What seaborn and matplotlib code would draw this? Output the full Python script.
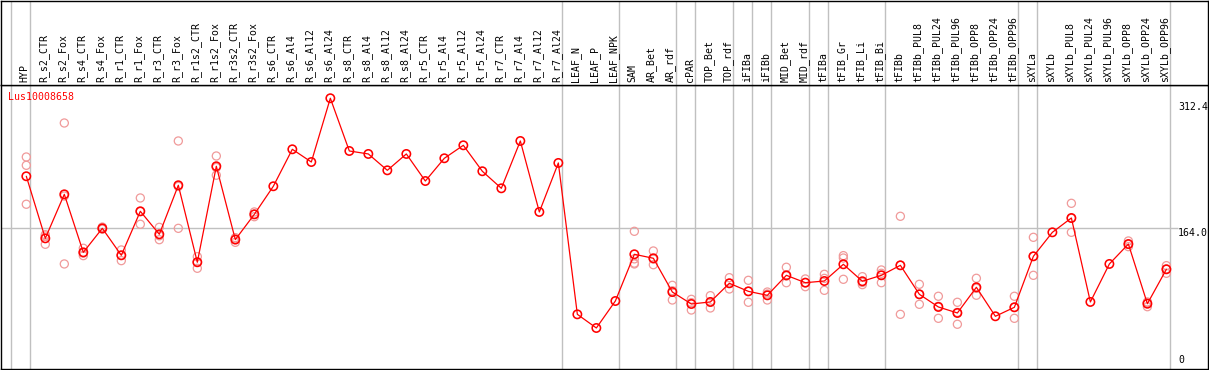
import numpy as np
import pandas as pd
import seaborn as sns
import matplotlib.pyplot as plt

GENE = "Lus10008658"

SAMPLES = [
    "HYP", "R_s2_CTR", "R_s2_Fox", "R_s4_CTR", "R_s4_Fox", "R_r1_CTR", "R_r1_Fox",
    "R_r3_CTR", "R_r3_Fox", "R_r1s2_CTR", "R_r1s2_Fox", "R_r3s2_CTR", "R_r3s2_Fox",
    "R_s6_CTR", "R_s6_Al4", "R_s6_Al12", "R_s6_Al24", "R_s8_CTR", "R_s8_Al4",
    "R_s8_Al12", "R_s8_Al24", "R_r5_CTR", "R_r5_Al4", "R_r5_Al12", "R_r5_Al24",
    "R_r7_CTR", "R_r7_Al4", "R_r7_Al12", "R_r7_Al24", "LEAF_N", "LEAF_P", "LEAF_NPK",
    "SAM", "AR_Bet", "AR_rdf", "cPAR", "TOP_Bet", "TOP_rdf", "iFIBa", "iFIBb",
    "MID_Bet", "MID_rdf", "tFIBa", "tFIB_Gr", "tFIB_Li", "tFIB_Bi", "tFIBb",
    "tFIBb_PUL8", "tFIBb_PUL24", "tFIBb_PUL96", "tFIBb_OPP8", "tFIBb_OPP24",
    "tFIBb_OPP96", "sXYLa", "sXYLb", "sXYLb_PUL8", "sXYLb_PUL24", "sXYLb_PUL96",
    "sXYLb_OPP8", "sXYLb_OPP24", "sXYLb_OPP96",
]

MEANS = [
    224.9, 151.7, 203.6, 135.2, 163.5, 131.7, 183.6, 156.5, 214.3, 123.5,
    236.7, 150.2, 180.0, 213.1, 256.7, 241.7, 316.9, 254.7, 251.2, 231.9,
    251.2, 219.3, 246.1, 261.4, 230.8, 210.7, 266.5, 182.8, 240.6, 62.1,
    46.0, 77.8, 132.9, 128.2, 88.4, 74.3, 76.7, 98.7, 89.2, 84.5,
    108.1, 99.4, 101.4, 121.1, 101.1, 108.1, 119.9, 85.7, 70.8, 63.7,
    94.0, 59.8, 70.4, 130.5, 158.8, 175.7, 76.7, 121.5, 145.0, 74.6,
    115.2,
]

# replicate values per sample index (only where visible)
REPLICATES = {
    0: [247.6, 237.8, 191.9],
    1: [156.0, 154.5, 144.7],
    2: [287.7, 201.6, 121.5],
    3: [140.0, 134.3, 131.3],
    4: [165.0, 163.0, 162.5],
    5: [138.0, 131.7, 125.4],
    6: [199.3, 183.2, 168.3],
    7: [164.7, 154.7, 150.1],
    8: [266.5, 212.9, 163.5],
    9: [130.1, 124.0, 116.4],
    10: [248.8, 235.2, 226.1],
    11: [152.5, 151.1, 147.0],
    12: [182.8, 180.0, 177.2],
    32: [160.0, 127.5, 122.5, 121.5],
    33: [136.8, 127.2, 120.6],
    34: [96.3, 89.9, 79.0],
    35: [79.8, 75.9, 67.2],
    36: [84.1, 76.4, 69.6],
    37: [105.3, 98.8, 92.0],
    38: [102.2, 89.1, 76.3],
    39: [88.4, 86.1, 79.0],
    40: [117.6, 107.3, 99.4],
    41: [103.8, 99.7, 94.7],
    42: [109.3, 104.5, 90.4],
    43: [131.3, 128.5, 103.4],
    44: [106.5, 99.7, 97.1],
    45: [114.4, 110.5, 99.4],
    46: [177.7, 119.9, 62.1],
    47: [97.5, 85.7, 73.9],
    48: [83.4, 71.6, 57.4],
    49: [76.3, 64.4, 50.4],
    50: [104.6, 92.8, 84.6],
    52: [83.4, 70.4, 57.4],
    53: [152.9, 130.5, 108.1],
    55: [193.0, 175.3, 158.8],
    58: [148.6, 144.5, 141.9],
    59: [76.0, 76.7, 71.1],
    60: [119.5, 115.6, 110.5],
}

# last sample index of each group (grey separators)
GROUP_ENDS = [-1, 0, 28, 31, 34, 35, 37, 38, 39, 41, 42, 45, 52, 53, 60]

Y_LABELS = [312.4, 164.0, 0]


def main():
    sns.set_style("white")
    plt.rcParams['font.family'] = ['DejaVu Sans Mono']

    means = pd.DataFrame({"x": np.arange(len(SAMPLES)), "value": MEANS})
    reps = pd.DataFrame([(i, v) for i, vals in REPLICATES.items() for v in vals],
                        columns=["x", "value"])

    fig = plt.figure(figsize=(12.09, 3.70), dpi=100)
    W, H = 1209, 370
    left, right = 1 / W, 1208 / W
    ax = fig.add_axes([left, 1 / H, right - left, (369 - 85) / H])
    hx = fig.add_axes([left, (370 - 85) / H, right - left, 84.5 / H])

    xlim = (-1.332, 62.19)
    for a in (ax, hx):
        a.set_xlim(*xlim)
        a.set_xticks([])
        a.set_yticks([])
        for s in a.spines.values():
            s.set_color("black")
            s.set_linewidth(1.0)
        for k in GROUP_ENDS:
            a.axvline(k + 0.21, color="#c0c0c0", lw=1.0, zorder=0)
    ax.set_ylim(-2.36, 332.5)
    hx.set_ylim(0, 1)

    # header labels
    for i, name in enumerate(SAMPLES):
        hx.text(i - 0.08, 0.03, name, rotation=90, ha="center", va="bottom",
                fontsize=7.1, color="black")

    ax.hlines(164.0, xlim[0], 60.6, color="#c0c0c0", lw=1.0, zorder=0)

    sns.scatterplot(data=reps, x="x", y="value", ax=ax, marker="o", s=34,
                    facecolor="none", edgecolor="#f09a9a", linewidth=0.9,
                    zorder=2)
    sns.lineplot(data=means, x="x", y="value", ax=ax, color="red", lw=0.9,
                 zorder=3)
    sns.scatterplot(data=means, x="x", y="value", ax=ax, marker="o", s=36,
                    facecolor="none", edgecolor="red", linewidth=1.15, zorder=4)
    ax.set_xlabel("")
    ax.set_ylabel("")

    ax.text(0.006, 0.958, GENE, transform=ax.transAxes, color="red",
            fontsize=7.1, ha="left", va="center")

    for v in Y_LABELS:
        va = "bottom" if v == 0 else "top"
        ax.text(60.62, v + (2.5 if v == 0 else 0), f"{v:.1f}" if v else "0",
                ha="left", va=va, fontsize=7.1, color="black", clip_on=True)

    fig.savefig("out.png", dpi=100)


if __name__ == "__main__":
    main()
